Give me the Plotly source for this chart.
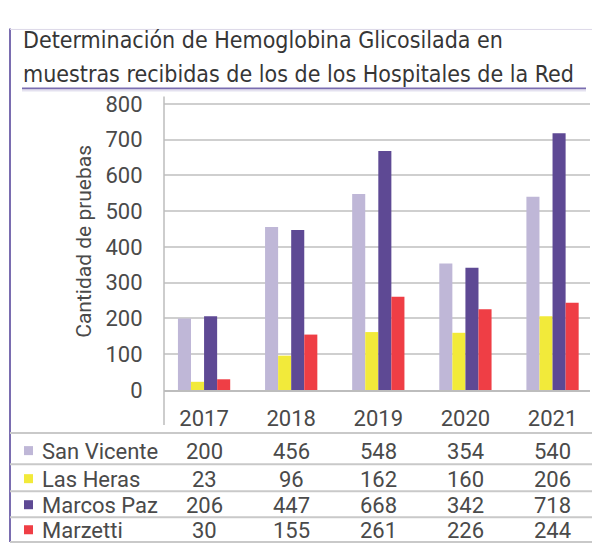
import plotly.graph_objects as go

W, H = 592, 555

years = ["2017", "2018", "2019", "2020", "2021"]
series = ["San Vicente", "Las Heras", "Marcos Paz", "Marzetti"]
san_vicente = [200, 456, 548, 354, 540]
las_heras = [23, 96, 162, 160, 206]
marcos_paz = [206, 447, 668, 342, 718]
marzetti = [30, 155, 261, 226, 244]
colors = ["#bfb7d7", "#f2ea3a", "#5e4994", "#ef3e45"]

title_lines = ["Determinación de Hemoglobina Glicosilada en",
               "muestras recibidas de los de los Hospitales de la Red"]
y_title = "Cantidad de pruebas"

TXT = "#4a4a4a"
FONT = "Roboto"


def X(px):
    return px / W


def Y(py):
    # page pixel -> paper fraction (the capture squeezes the page a little vertically)
    return max(0.0, min(1.0, 1 - ((py - 5.6) / 0.966) / H))


fig = go.Figure()
values = [san_vicente, las_heras, marcos_paz, marzetti]
for name, vals, col in zip(series, values, colors):
    fig.add_trace(go.Bar(x=years, y=vals, name=name, marker_color=col,
                         marker_line_width=0, showlegend=False))

fig.update_layout(
    width=W, height=H,
    margin=dict(l=0, r=0, t=0, b=0),
    paper_bgcolor="white", plot_bgcolor="white",
    barmode="group", bargap=0.4, bargroupgap=0,
    font=dict(family=FONT, color=TXT),
    xaxis=dict(domain=[X(164), X(590)], type="category", range=[-0.46, 4.43],
               showgrid=False, showline=True, linecolor="#bdbdbd", linewidth=2,
               ticks="outside", ticklen=8, tickcolor="rgba(0,0,0,0)",
               tickfont=dict(size=22, color=TXT)),
    yaxis=dict(domain=[Y(390), Y(97)], range=[0, 820.4],
               tickvals=[0, 100, 200, 300, 400, 500, 600, 700, 800],
               showgrid=True, gridcolor="#cfcfcf", gridwidth=1.5,
               zeroline=False, showline=False,
               ticks="outside", ticklen=16, tickcolor="rgba(0,0,0,0)",
               tickfont=dict(size=22, color=TXT)),
)

shapes = []
# frame
shapes.append(dict(type="line", xref="paper", yref="paper", x0=X(10), x1=X(10),
                   y0=Y(29), y1=0, line=dict(color="#7a6db0", width=2)))
shapes.append(dict(type="line", xref="paper", yref="paper", x0=X(10), x1=X(592),
                   y0=Y(30), y1=Y(30), line=dict(color="#dcd8e8", width=1)))
# title underline
shapes.append(dict(type="line", xref="paper", yref="paper", x0=X(22), x1=X(586),
                   y0=Y(89), y1=Y(89), line=dict(color="#7a6db0", width=2)))
shapes.append(dict(type="line", xref="paper", yref="paper", x0=X(22), x1=X(586),
                   y0=Y(91), y1=Y(91), line=dict(color="#e4e1ef", width=2)))
# vertical axis line
shapes.append(dict(type="line", xref="paper", yref="paper", x0=X(164), x1=X(164),
                   y0=Y(97), y1=Y(425), line=dict(color="#bdbdbd", width=1.5)))
# table lines
for ly in [433, 464, 491, 517, 543]:
    shapes.append(dict(type="line", xref="paper", yref="paper", x0=X(10), x1=X(592),
                       y0=Y(ly), y1=Y(ly), line=dict(color="#c9c9c9", width=2)))

annotations = []
for line, ty in zip(title_lines, [41, 74]):
    annotations.append(dict(text=line, xref="paper", yref="paper", x=X(21), y=Y(ty),
                            xanchor="left", yanchor="middle", showarrow=False,
                            font=dict(family="DejaVu Sans Condensed", size=23,
                                      color="#363636")))
annotations.append(dict(text=y_title, xref="paper", yref="paper", x=X(84), y=Y(242),
                        textangle=-90, xanchor="center", yanchor="middle",
                        showarrow=False, font=dict(size=21, color=TXT)))

row_y = [451, 479, 505, 530]
for i, (name, vals, col) in enumerate(zip(series, values, colors)):
    ry = row_y[i]
    shapes.append(dict(type="rect", xref="paper", yref="paper", x0=X(24), x1=X(33),
                       y0=Y(ry + 4), y1=Y(ry - 5), fillcolor=col, line_width=0))
    annotations.append(dict(text=name, xref="paper", yref="paper", x=X(40), y=Y(ry),
                            xanchor="left", yanchor="middle", showarrow=False,
                            font=dict(size=22, color=TXT)))
    for j, v in enumerate(vals):
        annotations.append(dict(text=str(v), xref="x", yref="paper", x=j, y=Y(ry),
                                xanchor="center", yanchor="middle",
                                showarrow=False, font=dict(size=22, color=TXT)))

fig.update_layout(shapes=shapes, annotations=annotations)
fig.write_html(
    "out.html",
    config={"displayModeBar": False},
    post_script=("document.body.style.margin='0';"
                 "document.body.style.overflow='hidden';"
                 "document.documentElement.style.overflow='hidden';"),
)
